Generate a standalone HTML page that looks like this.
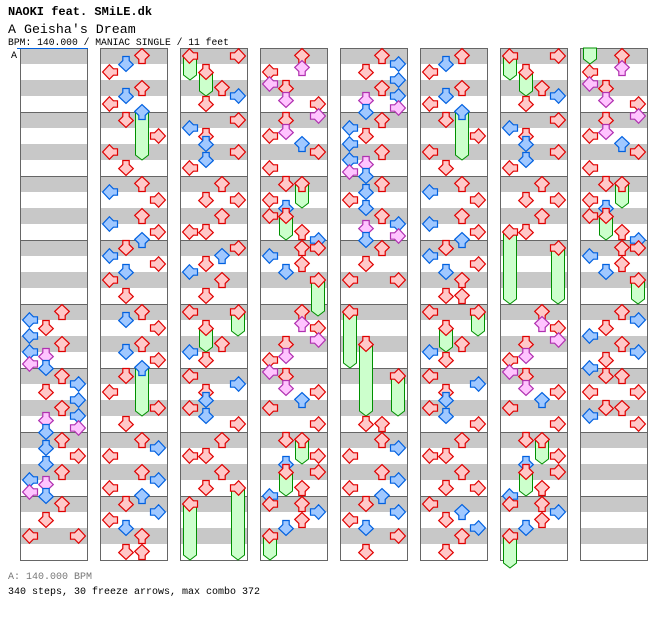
<!DOCTYPE html>
<html><head><meta charset="utf-8"><style>
html,body{margin:0;padding:0;background:#fff;}
svg{display:block;font-family:"Liberation Mono",monospace;}
</style></head><body>
<svg id="chart" width="672" height="620" viewBox="0 0 672 620" xmlns="http://www.w3.org/2000/svg">
<text x="8" y="15" font-size="12" font-weight="bold" fill="#000">NAOKI feat. SMiLE.dk</text>
<text x="8" y="33" font-size="13.3" fill="#000">A Geisha's Dream</text>
<text x="8" y="45" font-size="9.7" fill="#000">BPM: 140.000 / MANIAC SINGLE / 11 feet</text>
<text x="11" y="58" font-size="10" fill="#000">A</text>
<text x="8" y="579" font-size="10" fill="#777">A: 140.000 BPM</text>
<text x="8" y="594" font-size="10" fill="#000">340 steps, 30 freeze arrows, max combo 372</text>
<g id="cols"></g>
</svg>
<script>
const columnIds = [1,2,3,4,5,6,7,8];
const col1Notes = [[64,'U'],[66,'L'],[68,'D'],[70,'L'],[72,'U'],[74,'L'],[75,'D'],[77,'L'],[78,'D'],[80,'U'],[82,'R'],[84,'D'],[86,'R'],[88,'U'],[90,'R'],[91,'D'],[93,'R'],[94,'D'],[96,'U'],[98,'D'],[100,'R'],[102,'D'],[104,'U'],[106,'L'],[107,'D'],[109,'L'],[110,'D'],[112,'U'],[116,'D'],[120,'L'],[120,'R']];
const col1Freezes = [];
const col2Notes = [[0,'U'],[2,'D'],[4,'L'],[8,'U'],[10,'D'],[12,'L'],[14,'U'],[16,'D'],[20,'R'],[24,'L'],[28,'D'],[32,'U'],[34,'L'],[36,'R'],[40,'U'],[42,'L'],[44,'R'],[46,'U'],[48,'D'],[50,'L'],[52,'R'],[54,'D'],[56,'L'],[60,'D'],[64,'U'],[66,'D'],[68,'R'],[72,'U'],[74,'D'],[76,'R'],[78,'U'],[80,'D'],[84,'L'],[88,'R'],[92,'D'],[96,'U'],[98,'R'],[100,'L'],[104,'U'],[106,'R'],[108,'L'],[110,'U'],[112,'D'],[114,'R'],[116,'L'],[118,'D'],[120,'U'],[124,'D'],[124,'U']];
const col2Freezes = [[14,24,'U'],[78,88,'U']];
const col3Notes = [[0,'L'],[0,'R'],[4,'D'],[8,'U'],[10,'R'],[12,'D'],[16,'R'],[18,'L'],[20,'D'],[22,'D'],[24,'R'],[26,'D'],[28,'L'],[32,'U'],[36,'D'],[36,'R'],[40,'U'],[44,'L'],[44,'D'],[48,'R'],[50,'U'],[52,'D'],[54,'L'],[56,'U'],[60,'D'],[64,'L'],[64,'R'],[68,'D'],[72,'U'],[74,'L'],[76,'D'],[80,'L'],[82,'R'],[84,'D'],[86,'D'],[88,'L'],[90,'D'],[92,'R'],[96,'U'],[100,'L'],[100,'D'],[104,'U'],[108,'D'],[108,'R'],[112,'L']];
const col3Freezes = [[0,4,'L'],[4,8,'D'],[64,68,'R'],[68,72,'D'],[108,124,'R'],[112,124,'L']];
const col4Notes = [[0,'U'],[3,'U'],[4,'L'],[7,'L'],[8,'D'],[11,'D'],[12,'R'],[15,'R'],[16,'D'],[19,'D'],[20,'L'],[22,'U'],[24,'R'],[28,'L'],[32,'D'],[32,'U'],[36,'L'],[38,'D'],[40,'L'],[40,'D'],[44,'U'],[46,'R'],[48,'U'],[48,'R'],[50,'L'],[52,'U'],[54,'D'],[56,'R'],[64,'U'],[67,'U'],[68,'R'],[71,'R'],[72,'D'],[75,'D'],[76,'L'],[79,'L'],[80,'D'],[83,'D'],[84,'R'],[86,'U'],[88,'L'],[92,'R'],[96,'D'],[96,'U'],[100,'R'],[102,'D'],[104,'R'],[104,'D'],[108,'U'],[110,'L'],[112,'L'],[112,'U'],[114,'R'],[116,'U'],[118,'D'],[120,'L']];
const col4Freezes = [[32,36,'U'],[40,44,'D'],[56,63,'R'],[96,100,'U'],[104,108,'D'],[120,124,'L']];
const col5Notes = [[0,'U'],[2,'R'],[4,'D'],[6,'R'],[8,'U'],[10,'R'],[11,'D'],[13,'R'],[14,'D'],[16,'U'],[18,'L'],[20,'D'],[22,'L'],[24,'U'],[26,'L'],[27,'D'],[29,'L'],[30,'D'],[32,'U'],[34,'D'],[36,'L'],[38,'D'],[40,'U'],[42,'R'],[43,'D'],[45,'R'],[46,'D'],[48,'U'],[52,'D'],[56,'L'],[56,'R'],[64,'L'],[72,'D'],[80,'R'],[92,'D'],[92,'U'],[96,'U'],[98,'R'],[100,'L'],[104,'U'],[106,'R'],[108,'L'],[110,'U'],[112,'D'],[114,'R'],[116,'L'],[118,'D'],[120,'R'],[124,'D']];
const col5Freezes = [[64,76,'L'],[72,88,'D'],[80,88,'R']];
const col6Notes = [[0,'U'],[2,'D'],[4,'L'],[8,'U'],[10,'D'],[12,'L'],[14,'U'],[16,'D'],[20,'R'],[24,'L'],[28,'D'],[32,'U'],[34,'L'],[36,'R'],[40,'U'],[42,'L'],[44,'R'],[46,'U'],[48,'D'],[50,'L'],[52,'R'],[54,'D'],[56,'U'],[60,'D'],[60,'U'],[64,'L'],[64,'R'],[68,'D'],[72,'U'],[74,'L'],[76,'D'],[80,'L'],[82,'R'],[84,'D'],[86,'D'],[88,'L'],[90,'D'],[92,'R'],[96,'U'],[100,'L'],[100,'D'],[104,'U'],[108,'D'],[108,'R'],[112,'L'],[114,'U'],[116,'D'],[118,'R'],[120,'U'],[124,'D']];
const col6Freezes = [[14,24,'U'],[64,68,'R'],[68,72,'D']];
const col7Notes = [[0,'L'],[0,'R'],[4,'D'],[8,'U'],[10,'R'],[12,'D'],[16,'R'],[18,'L'],[20,'D'],[22,'D'],[24,'R'],[26,'D'],[28,'L'],[32,'U'],[36,'D'],[36,'R'],[40,'U'],[44,'L'],[44,'D'],[48,'R'],[64,'U'],[67,'U'],[68,'R'],[71,'R'],[72,'D'],[75,'D'],[76,'L'],[79,'L'],[80,'D'],[83,'D'],[84,'R'],[86,'U'],[88,'L'],[92,'R'],[96,'D'],[96,'U'],[100,'R'],[102,'D'],[104,'R'],[104,'D'],[108,'U'],[110,'L'],[112,'L'],[112,'U'],[114,'R'],[116,'U'],[118,'D'],[120,'L']];
const col7Freezes = [[0,4,'L'],[4,8,'D'],[44,60,'L'],[48,60,'R'],[96,100,'U'],[104,108,'D'],[120,126,'L']];
const col8Notes = [[0,'U'],[3,'U'],[4,'L'],[7,'L'],[8,'D'],[11,'D'],[12,'R'],[15,'R'],[16,'D'],[19,'D'],[20,'L'],[22,'U'],[24,'R'],[28,'L'],[32,'D'],[32,'U'],[36,'L'],[38,'D'],[40,'L'],[40,'D'],[44,'U'],[46,'R'],[48,'U'],[48,'R'],[50,'L'],[52,'U'],[54,'D'],[56,'R'],[64,'U'],[66,'R'],[68,'D'],[70,'L'],[72,'U'],[74,'R'],[76,'D'],[78,'L'],[80,'D'],[80,'U'],[84,'L'],[84,'R'],[88,'D'],[88,'U'],[90,'L'],[92,'R']];
const col8Freezes = [[-8,0,'L'],[32,36,'U'],[40,44,'D'],[56,60,'R']];
const allNotes = [col1Notes,col2Notes,col3Notes,col4Notes,col5Notes,col6Notes,col7Notes,col8Notes];
const allFreezes = [col1Freezes,col2Freezes,col3Freezes,col4Freezes,col5Freezes,col6Freezes,col7Freezes,col8Freezes];
const laneNames = ['L','D','U','R'];

const NS='http://www.w3.org/2000/svg';
const TOP=48, COLW=80, COLX0=20, UNIT=4, MEAS=8;
function colX(c){return COLX0+COLW*c;}
function laneX(c,lane){return colX(c)+2+16*laneNames.indexOf(lane);}
function posY(p){return TOP+UNIT*p;}
function mk(tag,attrs){const e=document.createElementNS(NS,tag);for(const k in attrs)e.setAttribute(k,attrs[k]);return e;}
const root=document.getElementById('cols');
const ARROW='4.8,0.5 11.2,0.5 11.2,4.6 15.3,8.6 8,15.4 0.7,8.6 4.8,4.6';
const ROT={D:0,L:90,U:180,R:270};
function colorFor(p){const m=((p%4)+4)%4; if(m===0)return['#ffc8c8','#e00000']; if(m===2)return['#a0c8ff','#0060e0']; return['#ffc4ff','#b030b0'];}

columnIds.forEach((id,c)=>{
  const g=mk('g',{});
  
  
  root.appendChild(g);
  const x=colX(c);
  for(let k=0;k<MEAS*2;k++){
    const s=mk('rect',{x:x,y:TOP+32*k,width:68,height:16,fill:'#c8c8c8'});
    
    
    g.appendChild(s);
  }
  for(let m=1;m<MEAS;m++){
    const l=mk('line',{x1:x,x2:x+68,y1:TOP+64*m+0.5,y2:TOP+64*m+0.5,stroke:'#666','stroke-width':1});
    
    
    g.appendChild(l);
  }
  const b=mk('rect',{x:x+0.5,y:TOP+0.5,width:67,height:512,fill:'none',stroke:'#666','stroke-width':1});
  
  
  g.appendChild(b);
  allFreezes[c].forEach(f=>{
    const lx=laneX(c,f[2]);
    const yt=f[0]<0?TOP:posY(f[0])+8;
    const yb=posY(f[1])+16;
    const poly=mk('polygon',{points:`${lx+1.5},${yt} ${lx+14.5},${yt} ${lx+14.5},${yb-5} ${lx+8},${yb} ${lx+1.5},${yb-5}`,fill:'#ccffcc',stroke:'#009000','stroke-width':1});
    
    
    g.appendChild(poly);
  });
  allNotes[c].forEach(n=>{
    const lx=laneX(c,n[1]); const y=posY(n[0]); const col=colorFor(n[0]);
    const a=mk('polygon',{points:ARROW,fill:col[0],stroke:col[1],'stroke-width':1.2,transform:`translate(${lx},${y}) rotate(${ROT[n[1]]} 8 8)`});
    
    
    g.appendChild(a);
  });
});
const bl=mk('line',{x1:17,x2:88,y1:48.5,y2:48.5,stroke:'#0060e0','stroke-width':1});


root.appendChild(bl);
</script>
</body></html>
